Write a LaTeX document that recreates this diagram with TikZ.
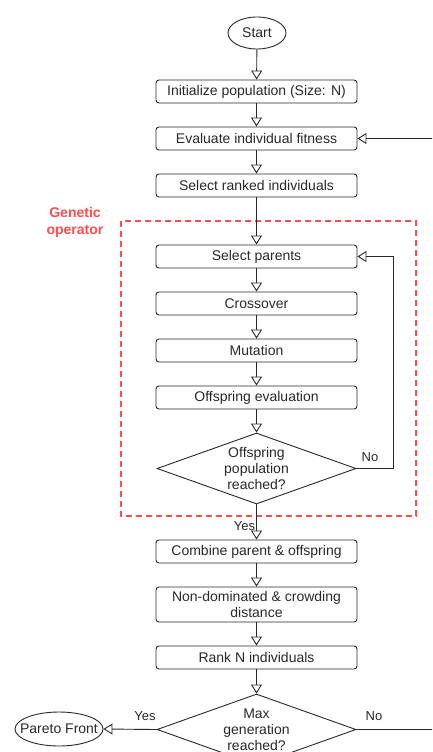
\documentclass[tikz,border=0pt]{standalone}
\usepackage{fontspec}
\setmainfont{Liberation Sans}
\usetikzlibrary{arrows.meta,shapes.geometric}
\definecolor{opred}{RGB}{255,76,76}
\definecolor{ink}{RGB}{40,40,40}
\begin{document}
\begin{tikzpicture}[x=1pt,y=-1pt,
  every node/.style={font=\fontsize{14}{16}\selectfont, text=ink},
  flow/.style={draw=ink, line width=0.9pt, -{Triangle[open,length=9pt,width=11pt]}},
  stepbox/.style={draw=ink, line width=0.9pt, rounded corners=3pt, minimum width=201pt, minimum height=23pt, inner sep=1pt, align=center},
  tallbox/.style={stepbox, minimum height=35pt},
  terminal/.style={draw=ink, line width=0.9pt, ellipse, inner ysep=0pt},
  decision/.style={draw=ink, line width=0.9pt, diamond, aspect=2.8, inner sep=0pt, minimum width=199pt, minimum height=71pt, align=center},
  tag/.style={font=\fontsize{13}{15}\selectfont}]
\useasboundingbox (0,0) rectangle (432,752);
\clip (0,0) rectangle (432,752);

% main column
\node[terminal, inner xsep=-4pt, minimum width=58pt, minimum height=32pt] (start) at (257,33) {Start};
\node[stepbox] (init) at (256.5,91.5) {Initialize population (Size: N)};
\node[stepbox] (eval) at (256.5,138.5) {Evaluate individual fitness};
\node[stepbox] (rank) at (256.5,185.5) {Select ranked individuals};

% genetic operator block
\node[stepbox] (parents) at (256.5,256.5) {Select parents};
\node[stepbox] (cross) at (256.5,303.5) {Crossover};
\node[stepbox] (mut) at (256.5,350.5) {Mutation};
\node[stepbox] (offeval) at (256.5,397.5) {Offspring evaluation};
\node[decision] (offdec) at (256.5,468.5) {Offspring\\population\\reached?};
\draw[opred, line width=1.6pt, dash pattern=on 6pt off 4pt] (121,221) rectangle (416,516);
\node[text=opred, font=\fontsize{14}{17}\selectfont\bfseries, align=center] (gop) at (75,222) {Genetic\\operator};

% survivor selection
\node[stepbox] (comb) at (256.5,551.5) {Combine parent \& offspring};
\node[tallbox] (nond) at (256.5,604.5) {Non-dominated \& crowding\\distance};
\node[stepbox] (rankn) at (256.5,657.5) {Rank N individuals};
\node[decision] (maxdec) at (256.5,729.5) {Max\\generation\\reached?};
\node[terminal, inner xsep=-9pt, minimum width=88pt, minimum height=34pt] (pareto) at (59,729) {Pareto Front};

% free ends at the right margin
\coordinate (loopin) at (440,138.5);
\coordinate (loopout) at (440,729.5);

% connectors
\draw[flow] (start) -- (init);
\draw[flow] (init) -- (eval);
\draw[flow] (eval) -- (rank);
\draw[flow] (rank) -- (parents);
\draw[flow] (parents) -- (cross);
\draw[flow] (cross) -- (mut);
\draw[flow] (mut) -- (offeval);
\draw[flow] (offeval) -- (offdec);
\draw[flow] (offdec.east) -- (393,468.5) |- (parents.east);
\draw[flow] (offdec.south) -- node[tag, left, pos=0.62, inner sep=1pt] {Yes} (comb.north);
\draw[flow] (comb) -- (nond);
\draw[flow] (nond) -- (rankn);
\draw[flow] (rankn) -- (maxdec);
\draw[flow] (maxdec.west) -- (pareto.east);
\draw[draw=ink, line width=0.9pt] (maxdec.east) -- (loopout);
\draw[flow] (loopin) -- (eval.east);

% branch labels
\node[tag] (noA) at (370,457) {No};
\node[tag] (yesB) at (145,716) {Yes};
\node[tag] (noB) at (374,716) {No};
\end{tikzpicture}
\end{document}
